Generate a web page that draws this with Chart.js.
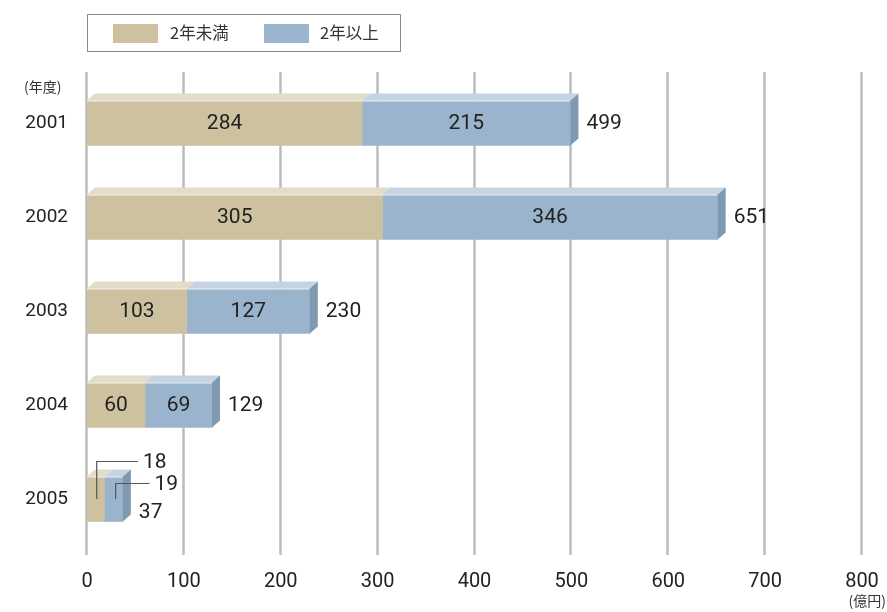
<!DOCTYPE html>
<html>
<head>
<meta charset="utf-8">
<script src="https://cdn.jsdelivr.net/npm/chart.js@4"></script>
<style>
  body { margin: 0; background: #fff; }
  #wrap { position: relative; width: 887px; height: 612px; }
  #legend {
    position: absolute; left: 87px; top: 14px; width: 314px; height: 38px;
    border: 1px solid #8a8a8a; box-sizing: border-box;
    font-family: "Noto Sans CJK JP", sans-serif; font-size: 16.5px; color: #333;
  }
  #legend .sw { position: absolute; top: 9px; width: 45px; height: 19px; }
  #legend .tx { position: absolute; top: 6px; line-height: 22px; }
</style>
</head>
<body>
<div id="wrap">
  <canvas id="c" width="887" height="612"></canvas>
  <div id="legend">
    <div class="sw" style="left:25px;background:#cdc19f"></div>
    <div class="tx" style="left:82px">2年未満</div>
    <div class="sw" style="left:176px;background:#99b4cc"></div>
    <div class="tx" style="left:232px">2年以上</div>
  </div>
</div>
<script>
const years = ['2001', '2002', '2003', '2004', '2005'];
const under2 = [284, 305, 103, 60, 18];
const over2 = [215, 346, 127, 69, 19];
const totals = [499, 651, 230, 129, 37];
const xTicks = [0, 100, 200, 300, 400, 500, 600, 700, 800];

const frontColors = ['#cdc19f', '#99b4cc'];
const topColors = ['#e3dcc9', '#c6d4e2'];
const sideColor = '#7f99b1';
const DX = 8, DY = 7;
const numFont = '21px Roboto, sans-serif';

// gridlines behind the bars, a bit taller than the plot area
const gridPlugin = {
  id: 'grid3d',
  beforeDatasetsDraw(chart) {
    const ctx = chart.ctx, xs = chart.scales.x, a = chart.chartArea;
    ctx.save();
    ctx.strokeStyle = '#bcbcbc';
    ctx.lineWidth = 2.5;
    for (const v of xTicks) {
      const px = Math.round(xs.getPixelForValue(v)) - 0.5;
      ctx.beginPath();
      ctx.moveTo(px, a.top - 4);
      ctx.lineTo(px, a.bottom + 9);
      ctx.stroke();
    }
    ctx.restore();
  }
};

const facePlugin = {
  id: 'faces',
  afterDatasetsDraw(chart) {
    const ctx = chart.ctx;
    const n = chart.data.datasets.length;
    ctx.save();
    for (let d = 0; d < n; d++) {
      const meta = chart.getDatasetMeta(d);
      meta.data.forEach((el, i) => {
        const p = el.getProps(['x', 'y', 'base', 'height'], true);
        const top = p.y - p.height / 2, bot = p.y + p.height / 2;
        const x0 = Math.min(p.x, p.base), x1 = Math.max(p.x, p.base);
        ctx.fillStyle = topColors[d];
        ctx.beginPath();
        ctx.moveTo(x0, top);
        ctx.lineTo(x0 + DX, top - DY);
        ctx.lineTo(x1 + DX, top - DY);
        ctx.lineTo(x1, top);
        ctx.closePath();
        ctx.fill();
        ctx.strokeStyle = 'rgba(255,255,255,0.8)';
        ctx.lineWidth = 1;
        ctx.beginPath();
        ctx.moveTo(x0, top + 0.5);
        ctx.lineTo(x1, top + 0.5);
        ctx.stroke();
        if (d === n - 1) {
          ctx.fillStyle = sideColor;
          ctx.beginPath();
          ctx.moveTo(x1, top);
          ctx.lineTo(x1 + DX, top - DY);
          ctx.lineTo(x1 + DX, bot - DY);
          ctx.lineTo(x1, bot);
          ctx.closePath();
          ctx.fill();
        }
      });
    }
    ctx.restore();
  }
};

const labelPlugin = {
  id: 'valueLabels',
  afterDatasetsDraw(chart) {
    const ctx = chart.ctx;
    const n = chart.data.datasets.length;
    ctx.save();
    ctx.font = numFont;
    ctx.fillStyle = '#222';
    ctx.textBaseline = 'middle';
    years.forEach((yr, i) => {
      let small = false;
      let endX = 0, cy = 0, top = 0;
      for (let d = 0; d < n; d++) {
        const p = chart.getDatasetMeta(d).data[i].getProps(['x', 'y', 'base', 'height'], true);
        if (Math.abs(p.x - p.base) < 30) small = true;
      }
      for (let d = 0; d < n; d++) {
        const p = chart.getDatasetMeta(d).data[i].getProps(['x', 'y', 'base', 'height'], true);
        const val = chart.data.datasets[d].data[i];
        endX = Math.max(endX, p.x);
        cy = p.y;
        top = p.y - p.height / 2;
        if (!small) {
          ctx.textAlign = 'center';
          ctx.fillText(val, (p.x + p.base) / 2, p.y + 1);
        } else {
          // leader line callout
          const mx = (p.x + p.base) / 2 + (d === 0 ? 1 : 2);
          const ly = d === 0 ? top - 15 : top + 7;
          const lx = d === 0 ? p.base + 51 : p.base + 45;
          ctx.strokeStyle = '#555';
          ctx.lineWidth = 1.2;
          ctx.beginPath();
          ctx.moveTo(mx, p.y);
          ctx.lineTo(mx, ly);
          ctx.lineTo(lx, ly);
          ctx.stroke();
          ctx.textAlign = 'left';
          ctx.fillText(val, lx + 5, ly + 1);
        }
      }
      ctx.textAlign = 'left';
      ctx.fillText(totals[i], endX + 16, cy + 1 + (small ? 13 : 0));
    });
    // unit labels
    ctx.font = '14px "Noto Sans CJK JP", sans-serif';
    ctx.fillStyle = '#333';
    ctx.textAlign = 'left';
    ctx.fillText('(年度)', 24, 87);
    ctx.textAlign = 'right';
    ctx.fillText('(億円)', 886, 601);
    ctx.restore();
  }
};

new Chart(document.getElementById('c'), {
  type: 'bar',
  data: {
    labels: years,
    datasets: [
      { label: '2年未満', data: under2, backgroundColor: frontColors[0], barThickness: 45 },
      { label: '2年以上', data: over2, backgroundColor: frontColors[1], barThickness: 45 }
    ]
  },
  options: {
    indexAxis: 'y',
    responsive: false,
    animation: false,
    layout: { padding: { left: 0, right: 25, top: 76, bottom: 0 } },
    plugins: { legend: { display: false }, tooltip: { enabled: false } },
    scales: {
      x: {
        stacked: true,
        min: 0, max: 800,
        afterBuildTicks: s => { s.ticks = xTicks.map(v => ({ value: v })); },
        grid: { display: false },
        border: { display: false },
        ticks: { color: '#222', font: { family: 'Roboto', size: 20 }, padding: 16 },
        afterFit: s => { s.height = 66; s.paddingLeft = 0; s.paddingRight = 0; }
      },
      y: {
        stacked: true,
        grid: { display: false },
        border: { display: false },
        ticks: { color: '#222', font: { family: 'Roboto', size: 19 }, padding: 11 },
        afterFit: s => { s.width = 87; s.paddingTop = 0; s.paddingBottom = 0; }
      }
    }
  },
  plugins: [gridPlugin, facePlugin, labelPlugin]
});
</script>
</body>
</html>
